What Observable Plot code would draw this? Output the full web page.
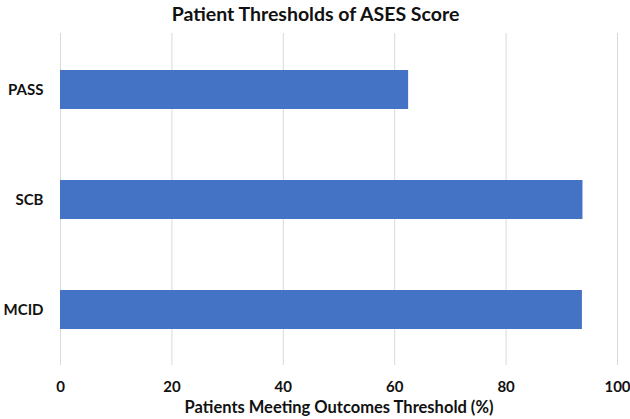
<!DOCTYPE html>
<html>
<head>
<meta charset="utf-8">
<script src="https://cdn.jsdelivr.net/npm/d3@7"></script>
<script src="https://cdn.jsdelivr.net/npm/@observablehq/plot@0.6"></script>
<style>
  html, body { margin: 0; padding: 0; background: #fff; }
  svg { display: block; }
</style>
</head>
<body>
<div id="chart"></div>
<script>
const title = "Patient Thresholds of ASES Score";
const xLabel = "Patients Meeting Outcomes Threshold (%)";
const categories = ["PASS", "SCB", "MCID"];
const values = [62.5, 93.8, 93.7];
const xTicks = [0, 20, 40, 60, 80, 100];

const data = categories.map((c, i) => ({category: c, value: values[i]}));

const chart = Plot.plot({
  width: 630,
  height: 419,
  marginLeft: 60,
  marginRight: 13,
  marginTop: 33,
  marginBottom: 54,
  style: {fontFamily: "Lato, sans-serif", color: "#111", background: "#fff"},
  x: {domain: [0, 100], ticks: xTicks},
  y: {domain: categories, paddingInner: 0.65, paddingOuter: 0.325},
  marks: [
    Plot.gridX(xTicks, {stroke: "#d9d9d9", strokeOpacity: 1, strokeWidth: 1}),
    Plot.barX(data, {x: "value", y: "category", fill: "#4472C4"}),
    Plot.axisX({ticks: xTicks, tickSize: 0, tickPadding: 16, fontSize: 15, fontWeight: "bold", label: null}),
    Plot.axisY({tickSize: 0, tickPadding: 17, fontSize: 15, fontWeight: "bold", label: null}),
    Plot.text([xLabel], {frameAnchor: "bottom", dy: 47, fontSize: 16.5, fontWeight: "bold", fill: "#111"}),
    Plot.text([title], {frameAnchor: "top", dx: -23.5, dy: -26, fontSize: 19.5, fontWeight: "bold", fill: "#111"})
  ]
});
document.getElementById("chart").append(chart);
</script>
</body>
</html>
